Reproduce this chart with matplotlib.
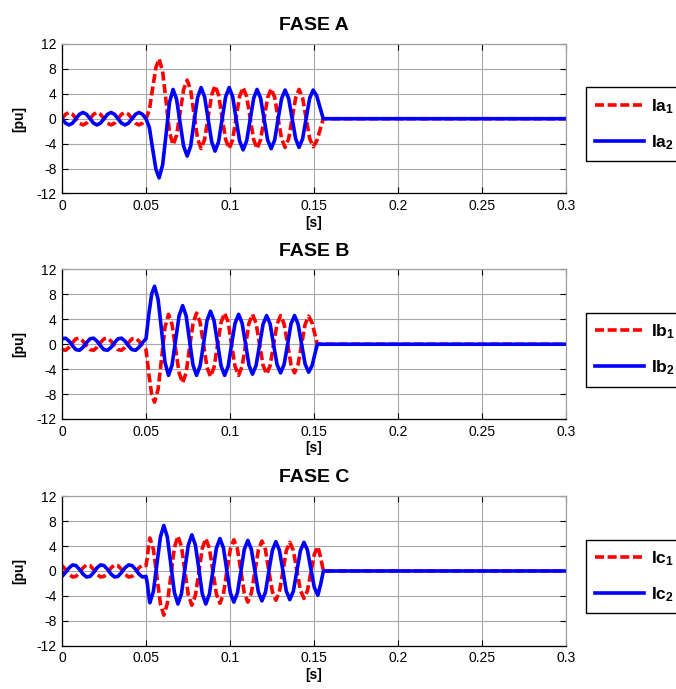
import matplotlib
matplotlib.use('Agg')
import matplotlib.pyplot as plt

plt.rcParams['font.family'] = ['Liberation Sans', 'DejaVu Sans']
plt.rcParams['axes.unicode_minus'] = False
plt.rcParams['mathtext.fontset'] = 'custom'
plt.rcParams['mathtext.rm'] = 'Liberation Sans:bold'
plt.rcParams['mathtext.it'] = 'Liberation Sans:bold'
plt.rcParams['mathtext.bf'] = 'Liberation Sans:bold'

# tiempo antes de la falla (comun a las 3 fases)
t_pre = [0.0, 0.0021, 0.0042, 0.0063, 0.0083, 0.0104, 0.0125, 0.0146, 0.0167,
         0.0188, 0.0208, 0.0229, 0.0250, 0.0271, 0.0292, 0.0313, 0.0333,
         0.0354, 0.0375, 0.0396, 0.0417, 0.0438, 0.0458, 0.0479, 0.0500]

# ---- FASE A ----
tA_fault = [0.0520, 0.0539, 0.0559, 0.0578,
            0.0599, 0.0620, 0.0640, 0.0661,
            0.0682, 0.0703, 0.0724, 0.0745,
            0.0766, 0.0786, 0.0807, 0.0828,
            0.0849, 0.0870, 0.0891, 0.0911,
            0.0932, 0.0953, 0.0974, 0.0995,
            0.1016, 0.1036, 0.1057, 0.1078,
            0.1099, 0.1120, 0.1141, 0.1161,
            0.1182, 0.1203, 0.1224, 0.1245,
            0.1266, 0.1286, 0.1307, 0.1328,
            0.1349, 0.1370, 0.1391, 0.1411,
            0.1432, 0.1453, 0.1474, 0.1495,
            0.1516, 0.1536, 0.1555, 0.3000]
ia1 = [0, 0.71, 1, 0.71, 0, -0.71, -1, -0.71,
       0, 0.71, 1, 0.71, 0, -0.71, -1, -0.71,
       0, 0.71, 1, 0.71, 0, -0.71, -1, -0.71, 0,
       1.4, 4.8, 8.2, 9.6,
       7.58, 2.7, -2.18, -4.2,
       -2.68, 1.0, 4.68, 6.2,
       4.59, 0.7, -3.19, -4.8,
       -3.32, 0.25, 3.82, 5.3,
       3.82, 0.25, -3.32, -4.8,
       -3.36, 0.1, 3.56, 5.0,
       3.56, 0.1, -3.36, -4.8,
       -3.39, 0.0, 3.39, 4.8,
       3.42, 0.1, -3.22, -4.6,
       -3.24, 0.05, 3.34, 4.7,
       3.35, 0.1, -3.15, -4.5,
       -3.6, -1.8, 0.0, 0.0]
ia2 = [0, -0.71, -1, -0.71, 0, 0.71, 1, 0.71,
       0, -0.71, -1, -0.71, 0, 0.71, 1, 0.71,
       0, -0.71, -1, -0.71, 0, 0.71, 1, 0.71, 0,
       -1.4, -4.75, -8.1, -9.5,
       -7.42, -2.4, 2.62, 4.7,
       3.13, -0.65, -4.43, -6.0,
       -4.39, -0.5, 3.39, 5.0,
       3.51, -0.1, -3.71, -5.2,
       -3.71, -0.1, 3.51, 5.0,
       3.54, 0.0, -3.54, -5.0,
       -3.58, -0.15, 3.28, 4.7,
       3.31, -0.05, -3.41, -4.8,
       -3.42, -0.1, 3.22, 4.6,
       3.25, 0.0, -3.25, -4.6,
       -3.25, 0.0, 3.25, 4.6,
       3.7, 1.8, 0.0, 0.0]

# ---- FASE B ----
tB_fault = [0.0517, 0.0534, 0.0551,
            0.0572, 0.0593, 0.0613, 0.0634,
            0.0655, 0.0676, 0.0697, 0.0718,
            0.0739, 0.0759, 0.0780, 0.0801,
            0.0822, 0.0843, 0.0863, 0.0884,
            0.0905, 0.0926, 0.0947, 0.0968,
            0.0989, 0.1009, 0.1030, 0.1051,
            0.1072, 0.1093, 0.1113, 0.1134,
            0.1155, 0.1176, 0.1197, 0.1218,
            0.1239, 0.1259, 0.1280, 0.1301,
            0.1322, 0.1343, 0.1363, 0.1384,
            0.1405, 0.1426, 0.1447, 0.1468,
            0.1489, 0.1505, 0.1520, 0.3000]
ib1 = [-0.87, -0.97, -0.5, 0.26, 0.87, 0.97, 0.5, -0.26,
       -0.87, -0.97, -0.5, 0.26, 0.87, 0.97, 0.5, -0.26,
       -0.87, -0.97, -0.5, 0.26, 0.87, 0.97, 0.5, -0.26, -0.87,
       -4.8, -8.1, -9.3,
       -7.23, -2.25, 2.73, 4.8,
       3.19, -0.7, -4.59, -6.2,
       -4.56, -0.6, 3.36, 5.0,
       3.51, -0.1, -3.71, -5.2,
       -3.71, -0.1, 3.51, 5.0,
       3.54, 0.0, -3.54, -5.0,
       -3.56, -0.1, 3.36, 4.8,
       3.39, 0.0, -3.39, -4.8,
       -3.42, -0.1, 3.22, 4.6,
       3.25, 0.0, -3.25, -4.6,
       -3.27, -0.05, 3.17, 4.5,
       3.4, 1.6, 0.0, 0.0]
ib2 = [0.87, 0.97, 0.5, -0.26, -0.87, -0.97, -0.5, 0.26,
       0.87, 0.97, 0.5, -0.26, -0.87, -0.97, -0.5, 0.26,
       0.87, 0.97, 0.5, -0.26, -0.87, -0.97, -0.5, 0.26, 0.87,
       4.8, 8.1, 9.3,
       7.21, 2.15, -2.91, -5.0,
       -3.36, 0.6, 4.56, 6.2,
       4.56, 0.6, -3.36, -5.0,
       -3.49, 0.15, 3.79, 5.3,
       3.79, 0.15, -3.49, -5.0,
       -3.56, -0.1, 3.36, 4.8,
       3.39, 0.0, -3.39, -4.8,
       -3.42, -0.1, 3.22, 4.6,
       3.25, 0.0, -3.25, -4.6,
       -3.25, 0.0, 3.25, 4.6,
       3.27, 0.05, -3.17, -4.5,
       -3.4, -1.6, 0.0, 0.0]

# ---- FASE C ----
tC_fault = [0.0508, 0.0516, 0.0523,
            0.0544, 0.0565, 0.0586, 0.0606,
            0.0627, 0.0648, 0.0669, 0.0690,
            0.0711, 0.0731, 0.0752, 0.0773,
            0.0794, 0.0815, 0.0835, 0.0856,
            0.0877, 0.0898, 0.0919, 0.0940,
            0.0961, 0.0981, 0.1002, 0.1023,
            0.1044, 0.1065, 0.1085, 0.1106,
            0.1127, 0.1148, 0.1169, 0.1190,
            0.1211, 0.1231, 0.1252, 0.1273,
            0.1294, 0.1315, 0.1335, 0.1356,
            0.1377, 0.1398, 0.1419, 0.1440,
            0.1461, 0.1481, 0.1502, 0.1523,
            0.1539, 0.1556, 0.3000]
ic1 = [0.87, 0.26, -0.5, -0.97, -0.87, -0.26, 0.5, 0.97,
       0.87, 0.26, -0.5, -0.97, -0.87, -0.26, 0.5, 0.97,
       0.87, 0.26, -0.5, -0.97, -0.87, -0.26, 0.5, 0.97, 0.87,
       2.2, 4.2, 5.3,
       3.48, -0.9, -5.28, -7.1,
       -5.24, -0.75, 3.74, 5.6,
       3.97, 0.05, -3.87, -5.5,
       -3.93, -0.15, 3.63, 5.2,
       3.68, 0.0, -3.68, -5.2,
       -3.71, -0.1, 3.51, 5.0,
       3.54, 0.0, -3.54, -5.0,
       -3.56, -0.1, 3.36, 4.8,
       3.41, 0.05, -3.31, -4.7,
       -3.34, -0.05, 3.24, 4.6,
       3.28, 0.1, -3.08, -4.4,
       -3.18, -0.25, 2.68, 3.9,
       2.2, 0.0, 0.0]
ic2 = [-0.87, -0.26, 0.5, 0.97, 0.87, 0.26, -0.5, -0.97,
       -0.87, -0.26, 0.5, 0.97, 0.87, 0.26, -0.5, -0.97,
       -0.87, -0.26, 0.5, 0.97, 0.87, 0.26, -0.5, -0.97, -0.87,
       -2.0, -3.9, -5.1,
       -3.28, 1.1, 5.48, 7.3,
       5.45, 1.0, -3.45, -5.3,
       -3.67, 0.25, 4.17, 5.8,
       4.17, 0.25, -3.67, -5.3,
       -3.76, -0.05, 3.66, 5.2,
       3.71, 0.1, -3.51, -5.0,
       -3.55, -0.05, 3.45, 4.9,
       3.48, 0.05, -3.38, -4.8,
       -3.41, -0.05, 3.31, 4.7,
       3.34, 0.05, -3.24, -4.6,
       -3.25, 0.0, 3.25, 4.6,
       3.35, 0.35, -2.65, -3.9,
       -2.2, 0.0, 0.0]

x_ticks = [0, 0.05, 0.1, 0.15, 0.2, 0.25, 0.3]
x_ticklabels = ['0', '0.05', '0.1', '0.15', '0.2', '0.25', '0.3']
y_ticks = [-12, -8, -4, 0, 4, 8, 12]

phases = [
    ('FASE A', t_pre + tA_fault, ia1, ia2, ['Ia$_1$', 'Ia$_2$']),
    ('FASE B', t_pre + tB_fault, ib1, ib2, ['Ib$_1$', 'Ib$_2$']),
    ('FASE C', t_pre + tC_fault, ic1, ic2, ['Ic$_1$', 'Ic$_2$']),
]

fig = plt.figure(figsize=(6.76, 6.89), dpi=100)
bottoms = [0.7192, 0.3919, 0.0628]

for (title, t, i1, i2, labels), b in zip(phases, bottoms):
    ax = fig.add_axes([0.0917, b, 0.7456, 0.217])
    ax.plot(t, i1, color='#ff0000', lw=2.6, dashes=(2.5, 1.0), label=labels[0])
    ax.plot(t, i2, color='#0000ff', lw=2.6, label=labels[1])
    ax.set_xlim(0, 0.3)
    ax.set_ylim(-12, 12)
    ax.set_xticks(x_ticks)
    ax.set_xticklabels(x_ticklabels)
    ax.set_yticks(y_ticks)
    ax.tick_params(direction='in', top=True, right=True, length=4, width=0.8,
                   labelsize=10, pad=4)
    ax.grid(True, color='#a8a8a8', lw=0.8)
    for s in ['left', 'bottom']:
        ax.spines[s].set_color('black')
        ax.spines[s].set_linewidth(0.9)
    for s in ['top', 'right']:
        ax.spines[s].set_color('#a0a0a0')
        ax.spines[s].set_linewidth(0.9)
    ax.set_title(title, fontsize=14, fontweight='bold', pad=10)
    ax.set_xlabel('[s]', fontsize=10, fontweight='bold', labelpad=2)
    ax.set_ylabel('[pu]', fontsize=10, fontweight='bold', labelpad=7)
    leg = ax.legend(loc='upper left', bbox_to_anchor=(1.039, 0.71),
                    borderaxespad=0, fancybox=False, edgecolor='black',
                    framealpha=1, handlelength=2.8, handletextpad=0.4,
                    labelspacing=1.0, borderpad=0.55,
                    prop={'weight': 'bold', 'size': 12.5})
    leg.get_frame().set_linewidth(1.0)

fig.savefig('out.png', dpi=100)
